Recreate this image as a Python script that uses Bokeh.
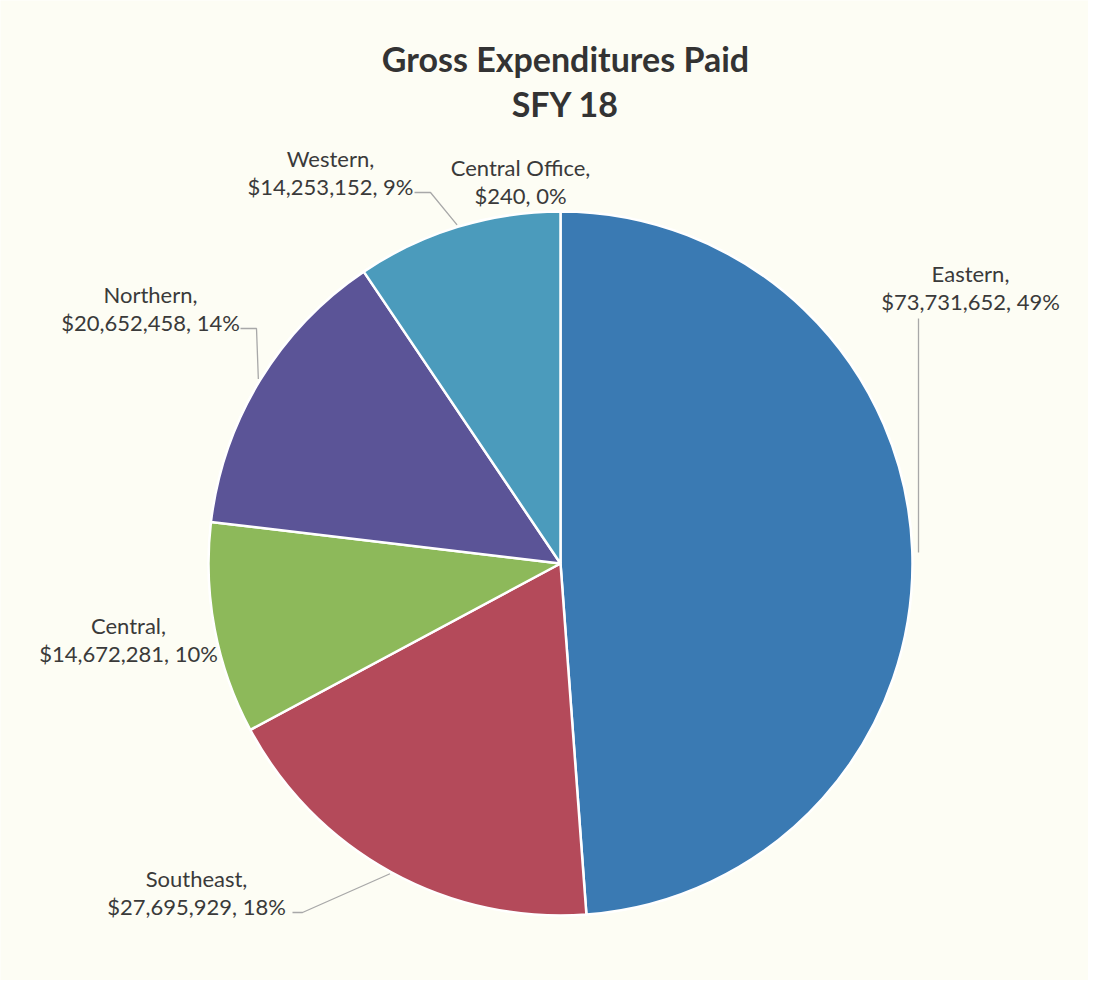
import numpy as np
from bokeh.plotting import figure
from bokeh.models import Range1d, ColumnDataSource
from bokeh.embed import file_html
from bokeh.resources import INLINE
from bokeh.core.properties import value

# ---- data ----
categories = ["Central Office", "Eastern", "Southeast", "Central", "Northern", "Western"]
amounts = [240, 73731652, 27695929, 14672281, 20652458, 14253152]
colors = ["#3C7DB6", "#3A7AB3", "#B44A5A", "#8DB95A", "#5B5497", "#4B9BBC"]
title_lines = ["Gross Expenditures Paid", "SFY 18"]

# ---- layout ----
W, H = 1088, 980
def Y(py):
    return H - py

cx, cy, R = 560, Y(563), 352
font = value("Lato")
txt_color = "#3A3A3A"
bg = "#FDFDF4"

# label centers (image pixel coords) and leader elbows
label_pos = {
    "Central Office": (520, 181),
    "Eastern": (970, 287),
    "Southeast": (196, 892),
    "Central": (128, 639),
    "Northern": (150, 308),
    "Western": (330, 172),
}
leader_elbow = {
    "Eastern": [(918, 318), (918, 552)],
    "Southeast": [(292, 912), (302, 912)],
    "Northern": [(240, 328), (256, 328)],
    "Western": [(414, 192), (430, 192)],
}

total = float(sum(amounts))
fracs = np.array(amounts) / total
cum = np.concatenate([[0.0], np.cumsum(fracs)])
theta1 = cum[:-1] * 2 * np.pi   # clockwise from 12 o'clock
theta2 = cum[1:] * 2 * np.pi
start = np.pi / 2 - theta2
end = np.pi / 2 - theta1

p = figure(width=W, height=H, output_backend="svg", toolbar_location=None,
           x_range=Range1d(0, W), y_range=Range1d(0, H),
           min_border=0, background_fill_color=bg, border_fill_color=bg,
           outline_line_color=None)
p.axis.visible = False
p.grid.visible = False

src = ColumnDataSource(dict(start=start, end=end, color=colors))
p.wedge(x=cx, y=cy, radius=R, start_angle="start", end_angle="end",
        direction="anticlock", fill_color="color", line_color="white",
        line_width=2.5, source=src)

# leaders
for i, c in enumerate(categories):
    if c not in leader_elbow:
        continue
    mid = (theta1[i] + theta2[i]) / 2
    ex = cx + (R + 2) * np.sin(mid)
    ey = cy + (R + 2) * np.cos(mid)
    pts = leader_elbow[c]
    xs = [pts[0][0], pts[1][0], ex]
    ys = [Y(pts[0][1]), Y(pts[1][1]), ey]
    if c == "Eastern":
        xs = [pts[0][0], pts[1][0]]
        ys = [Y(pts[0][1]), Y(pts[1][1])]
    p.line(xs, ys, line_color="#A8A8A8", line_width=1.3)

# labels
for i, c in enumerate(categories):
    pct = int(round(fracs[i] * 100))
    lx, ly = label_pos[c]
    p.text(x=[lx, lx], y=[Y(ly - 14), Y(ly + 14)],
           text=[c + ",", f"${amounts[i]:,}, {pct}%"],
           text_font=font, text_font_size="22px", text_color=txt_color,
           text_align="center", text_baseline="middle")

# title
p.text(x=[565, 565], y=[Y(58), Y(103)], text=title_lines,
       text_font=font, text_font_size="34px", text_font_style="bold",
       text_color="#333333", text_align="center", text_baseline="middle")

open("out.html", "w").write(file_html(p, INLINE))
